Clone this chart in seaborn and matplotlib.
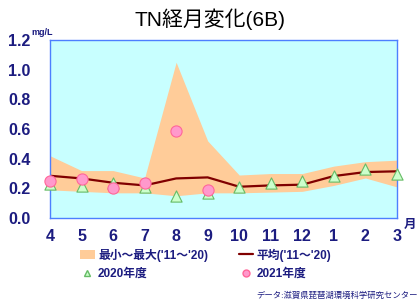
import numpy as np
import pandas as pd
import matplotlib
matplotlib.use("Agg")
import matplotlib.pyplot as plt
import seaborn as sns
from matplotlib.lines import Line2D
from matplotlib.patches import Patch

# データ
months = ["4", "5", "6", "7", "8", "9", "10", "11", "12", "1", "2", "3"]
band_max = [0.42, 0.32, 0.32, 0.27, 1.05, 0.52, 0.29, 0.30, 0.30, 0.35, 0.38, 0.39]
band_min = [0.19, 0.18, 0.17, 0.17, 0.15, 0.17, 0.17, 0.175, 0.18, 0.22, 0.27, 0.21]
mean_11_20 = [0.285, 0.267, 0.238, 0.22, 0.267, 0.274, 0.211, 0.22, 0.225, 0.283, 0.31, 0.315]
fy2020 = [0.23, 0.216, 0.234, 0.207, 0.15, 0.166, 0.207, 0.236, 0.247, 0.285, 0.328, 0.30]
fy2021 = [0.25, 0.26, 0.20, 0.238, 0.589, 0.189]

sns.set_style("white")
plt.rcParams["font.family"] = ["Liberation Sans", "Noto Sans CJK JP", "DejaVu Sans"]

navy = "#1c1c80"
blue = "#4d7fff"

df = pd.DataFrame({"pos": np.arange(len(months)), "max": band_max, "min": band_min,
                   "mean": mean_11_20, "fy2020": fy2020})
df21 = pd.DataFrame({"pos": np.arange(len(fy2021)), "val": fy2021})

fig = plt.figure(figsize=(4.2, 3.02), dpi=100)
ax = fig.add_axes([0.119, 0.278, 0.826, 0.5895])
ax.set_facecolor("#c8ffff")

ax.fill_between(df["pos"], df["min"], df["max"], color="#ffcc99", lw=0, zorder=1)
sns.lineplot(data=df, x="pos", y="mean", color="#800000", lw=1.6, ax=ax, zorder=2)
sns.scatterplot(data=df, x="pos", y="fy2020", marker="^", s=65, color="#ccffcc",
                edgecolor="#66bb66", linewidth=0.8, ax=ax, zorder=3, clip_on=False)
sns.scatterplot(data=df21, x="pos", y="val", marker="o", s=65, color="#ff99cc",
                edgecolor="#ff6699", linewidth=0.8, ax=ax, zorder=4, clip_on=False)

ax.set_xlim(0, 11)
ax.set_ylim(0, 1.2)
ax.set_xticks(df["pos"])
ax.set_xticklabels(months)
ax.set_yticks(np.arange(0, 1.21, 0.2))
ax.set_yticklabels([f"{v:.1f}" for v in np.arange(0, 1.21, 0.2)])
ax.set_xlabel("")
ax.set_ylabel("")
for s in ax.spines.values():
    s.set_color(blue)
    s.set_linewidth(1.0)
ax.tick_params(axis="y", direction="out", length=3.6, color=blue, width=1,
               labelsize=11.5, labelcolor=navy, pad=10.5)
ax.tick_params(axis="x", direction="in", length=4, color=blue, width=1,
               labelsize=11.5, labelcolor=navy, pad=8)
for lab in ax.get_xticklabels() + ax.get_yticklabels():
    lab.set_fontweight("bold")

fig.text(0.5, 0.937, "TN経月変化(6B)", ha="center", va="center", fontsize=15, color="black")
fig.text(0.074, 0.893, "mg/L", ha="left", va="center", fontsize=6.5, color=navy, fontweight="bold")
fig.text(0.976, 0.255, "月", ha="center", va="center", fontsize=9, color=navy, fontweight="bold")

# 凡例は行ごとに並べる（列優先なので順番を入れ替え）
handles = [
    Patch(facecolor="#ffcc99", edgecolor="none"),
    Line2D([], [], marker="^", ls="none", markersize=5, markerfacecolor="#ccffcc",
           markeredgecolor="#66bb66"),
    Line2D([], [], color="#800000", lw=1.6),
    Line2D([], [], marker="o", ls="none", markersize=5, markerfacecolor="#ff99cc",
           markeredgecolor="#ff6699"),
]
labels = ["最小～最大('11～'20)", "2020年度", "平均('11～'20)", "2021年度"]
leg = fig.legend(handles, labels, ncol=2, loc="center", bbox_to_anchor=(0.49, 0.125),
                 frameon=False, handlelength=1.2, handletextpad=0.3,
                 columnspacing=2.6, labelspacing=0.55,
                 prop={"weight": "bold", "size": 8.5})
for t in leg.get_texts():
    t.set_color(navy)

fig.text(0.995, 0.022, "データ:滋賀県琵琶湖環境科学研究センター", ha="right", va="center",
         fontsize=6, color=navy)

fig.savefig("out.png", dpi=100)
